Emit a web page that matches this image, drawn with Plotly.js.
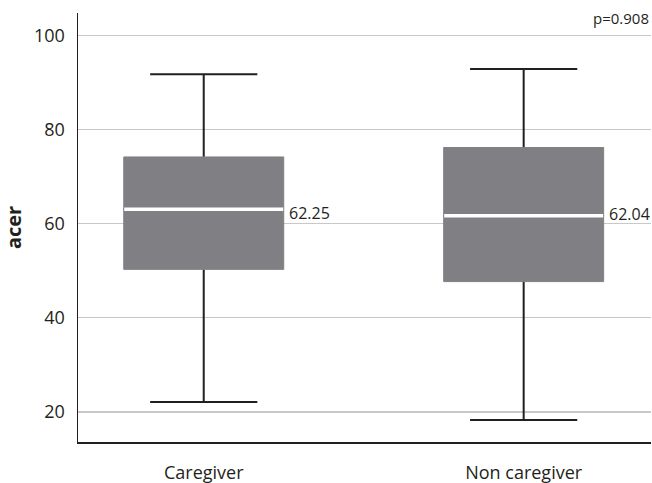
<!DOCTYPE html>
<html>
<head>
<meta charset="utf-8">
<script src="https://cdn.plot.ly/plotly-3.0.1.min.js"></script>
<style>html,body{margin:0;padding:0;background:#fff;}#chart{width:652px;height:483px;}</style>
</head>
<body>
<div id="chart"></div>
<script>
const categories = ['Caregiver', 'Non caregiver'];
const lowerFence = [22.1, 18.3];
const q1Values = [50.3, 47.7];
const medianValues = [63.1, 61.7];
const q3Values = [74.2, 76.2];
const upperFence = [91.8, 92.9];
const meanValues = [62.25, 62.04];
const meanLabels = ['62.25', '62.04'];
const pValueLabel = 'p=0.908';
const yTickValues = [20, 40, 60, 80, 100];

const ink = '#231f20';
const boxGray = '#808084';
const fontFam = '"Open Sans", "Noto Sans", sans-serif';

const whiskers = {
  type: 'box',
  x: categories,
  q1: medianValues,
  median: medianValues,
  q3: medianValues,
  lowerfence: lowerFence,
  upperfence: upperFence,
  width: 0.5,
  whiskerwidth: 0.67,
  fillcolor: 'rgba(0,0,0,0)',
  line: {color: ink, width: 2},
  boxpoints: false,
  hoverinfo: 'skip',
  showlegend: false
};

const boxes = {
  type: 'box',
  x: categories,
  q1: q1Values,
  median: medianValues,
  q3: q3Values,
  lowerfence: q1Values,
  upperfence: q3Values,
  width: 0.5,
  whiskerwidth: 0,
  fillcolor: boxGray,
  line: {color: boxGray, width: 1},
  boxpoints: false,
  hoverinfo: 'skip',
  showlegend: false
};

const medianLines = {
  type: 'box',
  x: categories,
  q1: medianValues,
  median: medianValues,
  q3: medianValues,
  lowerfence: medianValues,
  upperfence: medianValues,
  width: 0.497,
  whiskerwidth: 0,
  fillcolor: 'rgba(0,0,0,0)',
  line: {color: '#ffffff', width: 3.5},
  boxpoints: false,
  hoverinfo: 'skip',
  showlegend: false
};

const annotations = categories.map((c, i) => ({
  x: c, y: meanValues[i], xref: 'x', yref: 'y',
  text: meanLabels[i], showarrow: false,
  xanchor: 'left', yanchor: 'middle', xshift: 83,
  font: {family: fontFam, size: 16, color: ink}
}));
annotations.push({
  x: 1, y: 1, xref: 'paper', yref: 'paper',
  text: pValueLabel, showarrow: false,
  xanchor: 'right', yanchor: 'middle', yshift: -5,
  font: {family: fontFam, size: 15, color: ink}
});

const layout = {
  width: 652, height: 483,
  margin: {l: 78, r: 1, t: 13, b: 41, pad: 0},
  paper_bgcolor: '#ffffff', plot_bgcolor: '#ffffff',
  boxmode: 'overlay',
  font: {family: fontFam, color: ink},
  xaxis: {
    type: 'category',
    range: [-0.393, 1.398],
    showgrid: false, zeroline: false,
    showline: true, linecolor: ink, linewidth: 1.5,
    ticks: 'outside', ticklen: 14, tickcolor: 'rgba(0,0,0,0)',
    tickfont: {family: fontFam, size: 18, color: ink},
    fixedrange: true
  },
  yaxis: {
    range: [13.6, 104.8],
    tickvals: yTickValues,
    ticktext: yTickValues.map(String),
    showgrid: true, gridcolor: '#c8c8c8', gridwidth: 1.3,
    zeroline: false,
    showline: true, linecolor: ink, linewidth: 1.5,
    ticks: 'outside', ticklen: 8, tickcolor: 'rgba(0,0,0,0)',
    tickfont: {family: fontFam, size: 18, color: ink},
    title: {text: '<b>acer</b>', font: {family: fontFam, size: 20, color: ink}, standoff: 10},
    fixedrange: true
  },
  annotations: annotations
};

Plotly.newPlot('chart', [whiskers, boxes, medianLines], layout, {displayModeBar: false, staticPlot: true});
</script>
</body>
</html>
